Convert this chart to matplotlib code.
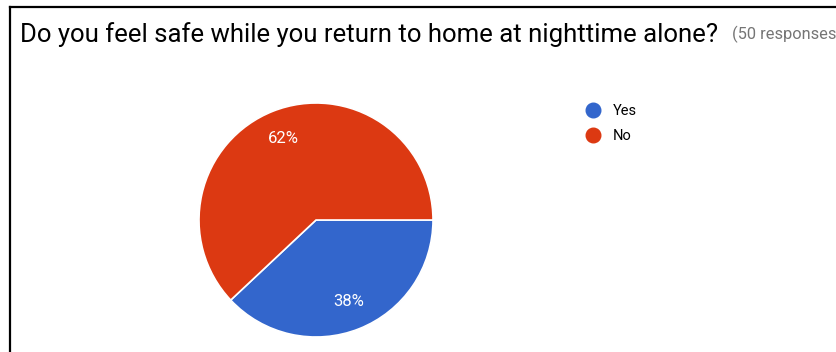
import matplotlib.pyplot as plt
from matplotlib.lines import Line2D

labels = ["Yes", "No"]
shares = [38, 62]
colors = ["#3366cc", "#dc3912"]
title = "Do you feel safe while you return to home at nighttime alone?"
note = "(50 responses"

W, H = 837, 352
plt.rcParams['font.family'] = ['Roboto', 'DejaVu Sans']

fig = plt.figure(figsize=(W / 100, H / 100), dpi=100)

# pie axes, centred at (316, 220) px with radius 117 px
cx, cy, r = 316, 220, 117
ax = fig.add_axes([(cx - r) / W, (H - cy - r) / H, 2 * r / W, 2 * r / H])
wedges, _, autotexts = ax.pie(
    shares, colors=colors, startangle=0, counterclock=False,
    autopct='%d%%', pctdistance=0.75,
    wedgeprops=dict(edgecolor='white', linewidth=1.2),
    textprops=dict(color='white', fontsize=12))
ax.set_xlim(-1, 1)
ax.set_ylim(-1, 1)
ax.set_aspect('equal')
ax.axis('off')

# title and response count
fig.text(20 / W, 1 - 42 / H, title, fontsize=18.5, color='black', va='baseline')
fig.text(732 / W, 1 - 39.5 / H, note, fontsize=11.8, color='#757575', va='baseline')

# legend with round markers
handles = [Line2D([], [], marker='o', linestyle='none', markersize=10.5,
                  markerfacecolor=c, markeredgecolor=c) for c in colors]
fig.legend(handles, labels, loc='upper left', bbox_to_anchor=(586 / W, 1 - 104 / H),
           frameon=False, fontsize=10.5, handlelength=1.0, handletextpad=0.85,
           labelspacing=0.75, borderpad=0, borderaxespad=0)

# frame lines on the left and top
fig.add_artist(Line2D([10 / W, 10 / W], [0, 1 - 7 / H], color='black', linewidth=1.6))
fig.add_artist(Line2D([10 / W, 1], [1 - 7 / H, 1 - 7 / H], color='black', linewidth=1.6))

fig.savefig('out.png', dpi=100)
